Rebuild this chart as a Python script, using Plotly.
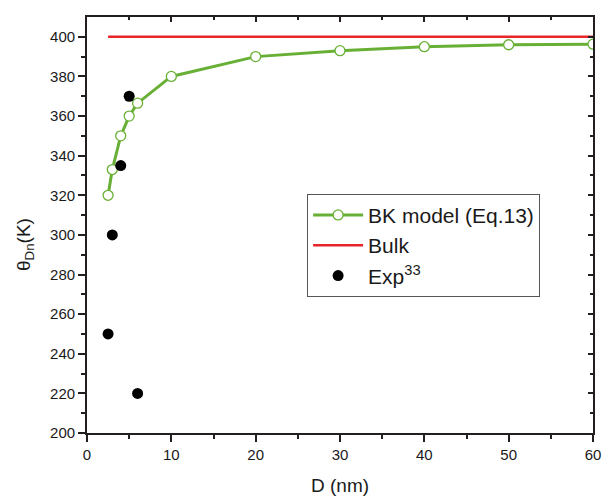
import plotly.graph_objects as go

bk_x = [2.5, 3, 4, 5, 6, 10, 20, 30, 40, 50, 60]
bk_y = [320, 333, 350, 360, 366.5, 380, 390, 393, 395, 396, 396.3]
bulk_x = [2.5, 60]
bulk_y = [400, 400]
exp_x = [2.5, 3, 4, 5, 6]
exp_y = [250, 300, 335, 370, 220]

x_ticks = [0, 10, 20, 30, 40, 50, 60]
x_minor = [5, 15, 25, 35, 45, 55]
y_ticks = list(range(200, 401, 20))
y_minor = list(range(210, 410, 20))

green = "#68b035"
red = "#e8262a"
axc = "#231f20"
font = "Liberation Sans, Arial, sans-serif"

fig = go.Figure()
fig.add_trace(go.Scatter(x=bk_x, y=bk_y, mode="lines+markers", name="BK model (Eq.13)",
                         line=dict(color=green, width=3),
                         marker=dict(symbol="circle", size=10, color="white",
                                     line=dict(color=green, width=1.3))))
fig.add_trace(go.Scatter(x=bulk_x, y=bulk_y, mode="lines", name="Bulk",
                         line=dict(color=red, width=2.5)))
fig.add_trace(go.Scatter(x=exp_x, y=exp_y, mode="markers", name="Exp<sup>33</sup>",
                         marker=dict(symbol="circle", size=11, color="black")))
# invisible trace so that the mirrored (top/right) axes are drawn
fig.add_trace(go.Scatter(x=[None], y=[None], xaxis="x2", yaxis="y2", showlegend=False,
                         hoverinfo="skip"))

tickfont = dict(family=font, size=15, color="#1a1a1a")
base = dict(showgrid=False, zeroline=False, showline=True, linecolor=axc, linewidth=1.8,
            tickcolor=axc, tickwidth=1.5, automargin=False)
fig.update_layout(
    width=604, height=496,
    margin=dict(l=87, r=11, t=17, b=63),
    plot_bgcolor="white", paper_bgcolor="white",
    font=dict(family=font, size=15, color="#1a1a1a"),
    xaxis=dict(range=[0, 60], tickvals=x_ticks, ticks="outside", ticklen=7, tickfont=tickfont,
               minor=dict(tickvals=x_minor, ticks="outside", ticklen=4,
                          tickcolor=axc, tickwidth=1.5), **base),
    yaxis=dict(range=[200, 410], tickvals=y_ticks, ticks="outside", ticklen=7, tickfont=tickfont,
               minor=dict(tickvals=y_minor, ticks="outside", ticklen=4,
                          tickcolor=axc, tickwidth=1.5), **base),
    xaxis2=dict(range=[0, 60], overlaying="x", anchor="y", side="top", tickvals=x_ticks,
                ticks="inside", ticklen=5, showticklabels=False,
                minor=dict(tickvals=x_minor, ticks="inside", ticklen=3,
                           tickcolor=axc, tickwidth=1.5), **base),
    yaxis2=dict(range=[200, 410], overlaying="y", anchor="x", side="right", tickvals=y_ticks,
                ticks="inside", ticklen=5, showticklabels=False,
                minor=dict(tickvals=y_minor, ticks="inside", ticklen=3,
                           tickcolor=axc, tickwidth=1.5), **base),
    legend=dict(x=0.435, y=0.575, xanchor="left", yanchor="top",
                bordercolor="#555", borderwidth=1, bgcolor="white",
                font=dict(family=font, size=21, color="#1a1a1a"),
                tracegroupgap=0, itemwidth=50),
    showlegend=True,
    annotations=[
        dict(text="D (nm)", xref="paper", yref="paper", x=0.5, y=-0.127,
             xanchor="center", yanchor="middle", showarrow=False,
             font=dict(family=font, size=19, color="#1a1a1a")),
        dict(text="θ<sub>Dn</sub>(K)", xref="paper", yref="paper", x=-0.1225, y=0.452,
             xanchor="center", yanchor="middle", showarrow=False, textangle=-90,
             font=dict(family=font, size=19, color="#1a1a1a")),
    ],
)

fig.write_html("out.html", config={"displayModeBar": False},
               post_script="document.body.style.margin='0px';")
